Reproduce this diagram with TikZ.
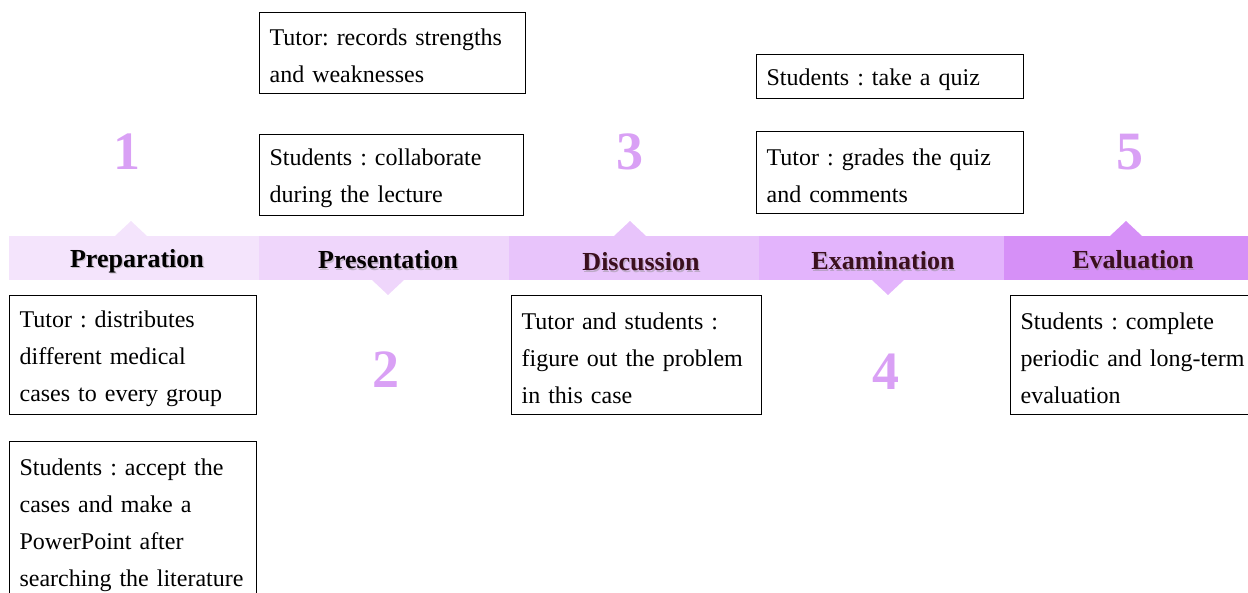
\documentclass[tikz,border=0pt]{standalone}
\usepackage{fontspec}
\setmainfont{Liberation Serif}
\frenchspacing
\definecolor{segA}{HTML}{F4E4FC}
\definecolor{segB}{HTML}{EFD6FB}
\definecolor{segC}{HTML}{E8C4FB}
\definecolor{segD}{HTML}{E3B4FC}
\definecolor{segE}{HTML}{D690F7}
\definecolor{numcol}{HTML}{D9A0F5}
\definecolor{labdark}{HTML}{3B0F1E}
\newcommand{\tstrut}{\rule{0pt}{23pt}}
\newcommand{\sstrut}{\rule{0pt}{20pt}}
\begin{document}
\begin{tikzpicture}[x=1pt,y=-1pt,
  textbox/.style={draw=black, line width=1.2pt, rectangle, anchor=north west, inner sep=0pt,
    align=left, font=\frenchspacing\fontsize{24}{37}\selectfont},
  steplabel/.style={font=\bfseries\fontsize{26}{30}\selectfont, inner sep=0pt},
  stepnum/.style={font=\bfseries\fontsize{54}{60}\selectfont, text=numcol, inner sep=0pt}
]
\useasboundingbox (0,0) rectangle (1248,593);
\clip (0,0) rectangle (1248,593);
% band segments
\fill[segA] (9,236) rectangle (259,280);
\fill[segA] (115,236) -- (131,221) -- (147,236) -- cycle;
\fill[segB] (259,236) rectangle (509,280);
\fill[segB] (372,280) -- (388,295) -- (404,280) -- cycle;
\fill[segC] (509,236) rectangle (759,280);
\fill[segC] (614,236) -- (630,221) -- (646,236) -- cycle;
\fill[segD] (759,236) rectangle (1004,280);
\fill[segD] (872,280) -- (888,295) -- (904,280) -- cycle;
\fill[segE] (1004,236) rectangle (1248,280);
\fill[segE] (1110,236) -- (1126,221) -- (1142,236) -- cycle;
% labels with faint shadow
\foreach \px/\py/\txt in {137/261/Preparation, 388/260/Presentation, 641/262/Discussion, 883/261/Examination, 1133/260/Evaluation}{
  \node[steplabel, text=black!45, opacity=0.45] at (\px+1.2,\py+1.2) {\txt};
}
\node[steplabel, text=black] (l1) at (137,261) {Preparation};
\node[steplabel, text=black!90!labdark] (l2) at (388,260) {Presentation};
\node[steplabel, text=labdark] (l3) at (641,262) {Discussion};
\node[steplabel, text=labdark] (l4) at (883,261) {Examination};
\node[steplabel, text=labdark] (l5) at (1133,260) {Evaluation};
% numbers
\node[stepnum] (n1) at (127,152) {1};
\node[stepnum] (n2) at (386,370) {2};
\node[stepnum] (n3) at (630,152) {3};
\node[stepnum] (n4) at (886,372) {4};
\node[stepnum] (n5) at (1130,152) {5};
% boxes
\node[textbox, minimum width=266pt, minimum height=81pt, text width=246pt] (b1) at (259,12)
  {\tstrut Tutor: records strengths\\and weaknesses};
\node[textbox, minimum width=264pt, minimum height=81pt, text width=244pt] (b2) at (259,134)
  {\tstrut Students : collaborate\\during the lecture};
\node[textbox, minimum width=267pt, minimum height=44pt, text width=247pt] (b3) at (756,54)
  {\tstrut Students : take a quiz};
\node[textbox, minimum width=267pt, minimum height=82pt, text width=247pt] (b4) at (756,131)
  {\tstrut Tutor : grades the quiz\\and comments};
\node[textbox, minimum width=247pt, minimum height=119pt, text width=227pt] (b5) at (9,295)
  {\tstrut Tutor : distributes\\different medical\\cases to every group};
\node[textbox, minimum width=247pt, minimum height=163pt, text width=227pt] (b6) at (9,441)
  {\sstrut Students : accept the\\cases and make a\\PowerPoint after\\searching the literature};
\node[textbox, minimum width=250pt, minimum height=119pt, text width=230pt] (b7) at (511,295)
  {\tstrut Tutor and students :\\figure out the problem\\in this case};
\node[textbox, minimum width=250pt, minimum height=119pt, text width=230pt] (b8) at (1010,295)
  {\tstrut Students : complete\\periodic and long-term\\evaluation};
\end{tikzpicture}
\end{document}
